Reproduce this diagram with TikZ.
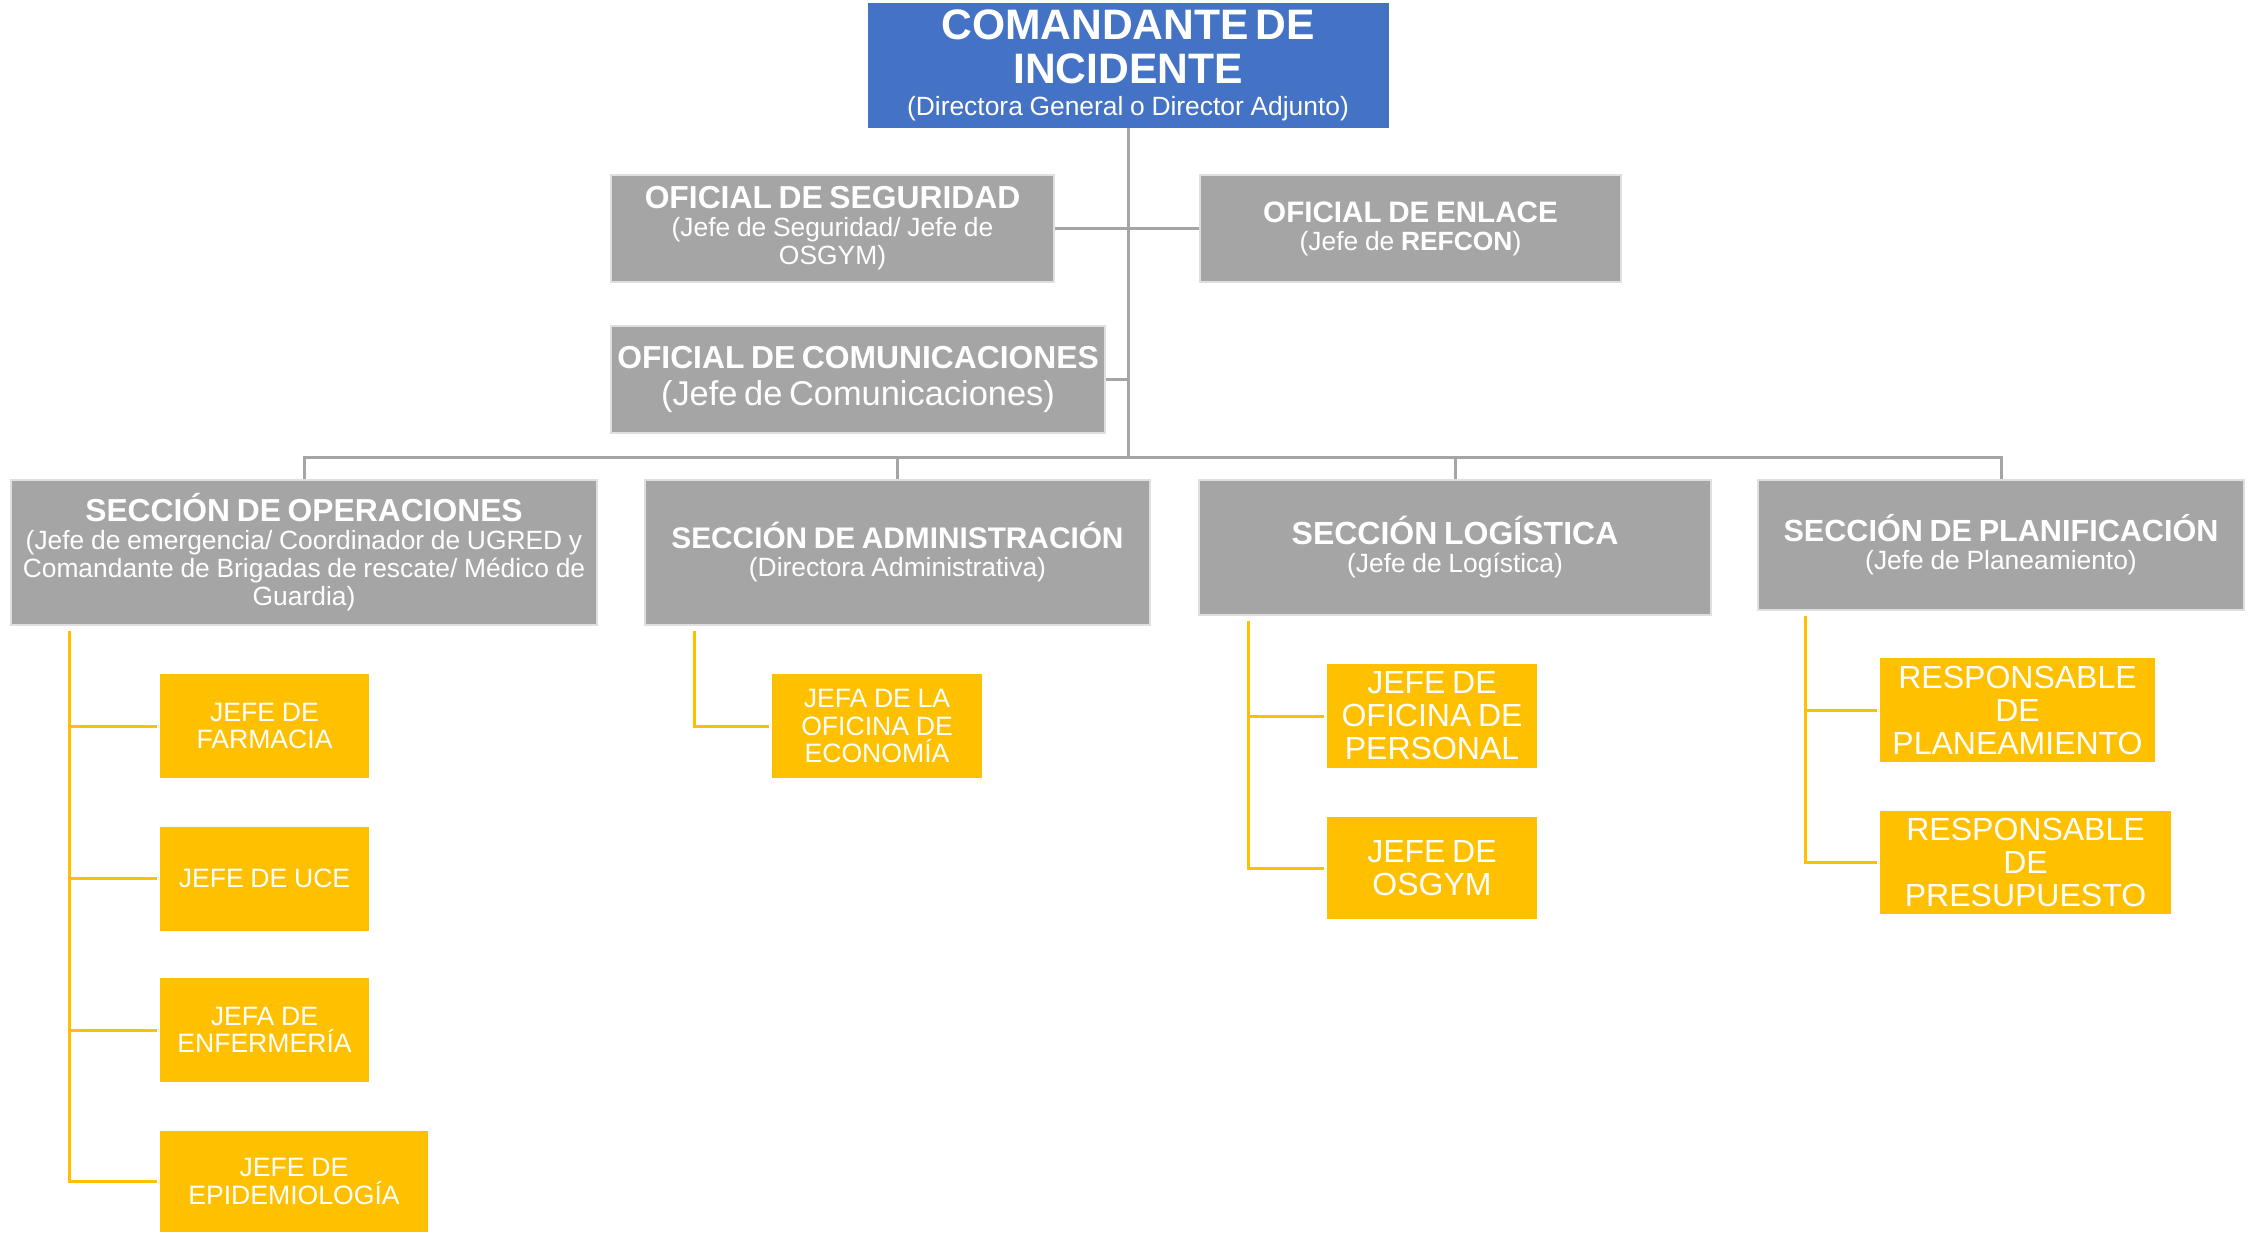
\documentclass[tikz,border=0pt]{standalone}
\usepackage{fontspec}
\setmainfont{Liberation Sans}
\definecolor{azul}{HTML}{4472C4}
\definecolor{gris}{HTML}{A5A5A5}
\definecolor{amarillo}{HTML}{FFC000}
\newcommand\tit{\fontsize{21.3}{22}\selectfont\bfseries}
\newcommand\cab[1]{\fontsize{#1}{#1}\selectfont\bfseries}
\newcommand\sub{\fontsize{13.2}{14}\selectfont}
\newcommand\uni[2]{\fontsize{#1}{#2}\selectfont}

\begin{document}
\begin{tikzpicture}[x=0.5pt, y=-0.5pt,
  caja/.style 2 args={text width=#1, minimum height=#2, inner xsep=1pt, inner ysep=0pt, align=center, text=white},
  jefe/.style={fill=azul},
  oficial/.style={fill=gris, draw=gris!35, line width=0.8pt},
  unidad/.style={fill=amarillo},
  rama/.style={draw=gris, line width=1.5pt},
  ramay/.style={draw=amarillo, line width=1.5pt, shorten >=1.5pt}]
\useasboundingbox (0,0) rectangle (2254,1232);
\node[jefe, caja={258.5pt}{62.5pt}] (ci) at (1128,65.5) {{\tit COMANDANTE DE\\INCIDENTE\par}\vspace{2pt}{\sub (Directora General o Director Adjunto)\par}};
\node[oficial, caja={219.5pt}{53.5pt}] (seg) at (832.5,228.5) {{\cab{15.9}OFICIAL DE SEGURIDAD\par}{\sub (Jefe de Seguridad/ Jefe de\\OSGYM)\par}};
\node[oficial, caja={208.5pt}{53.5pt}] (enl) at (1410.5,228.5) {{\cab{14.8}OFICIAL DE ENLACE\par}{\sub (Jefe de \textbf{REFCON})\par}};
\node[oficial, caja={245pt}{53.5pt}] (com) at (858,379.5) {{\cab{15.9}OFICIAL DE COMUNICACIONES\par}\vspace{1pt}{\fontsize{17.2}{17.5}\selectfont (Jefe de Comunicaciones)\par}};
\node[oficial, caja={291pt}{72.5pt}] (ope) at (304,552.5) {{\cab{15.9}SECCIÓN DE OPERACIONES\par}{\sub (Jefe de emergencia/ Coordinador de UGRED y\\Comandante de Brigadas de rescate/ Médico de\\Guardia)\par}};
\node[oficial, caja={250.5pt}{72.5pt}] (adm) at (897.5,552.5) {{\cab{14.9}SECCIÓN DE ADMINISTRACIÓN\par}{\sub (Directora Administrativa)\par}};
\node[oficial, caja={254pt}{67.5pt}] (log) at (1455,547.5) {{\cab{16}SECCIÓN LOGÍSTICA\par}{\sub (Jefe de Logística)\par}};
\node[oficial, caja={241pt}{65pt}] (pla) at (2001,545) {{\cab{15.3}SECCIÓN DE PLANIFICACIÓN\par}{\sub (Jefe de Planeamiento)\par}};
\node[unidad, caja={102.5pt}{52pt}] (far) at (264.5,726) {\uni{13.3}{13.7}JEFE DE\\FARMACIA\par};
\node[unidad, caja={102.5pt}{52pt}] (uce) at (264.5,878.5) {\uni{13.3}{13.7}JEFE DE UCE\par};
\node[unidad, caja={102.5pt}{52pt}] (enf) at (264.5,1030) {\uni{13.3}{13.7}JEFA DE\\ENFERMERÍA\par};
\node[unidad, caja={132pt}{50.5pt}] (epi) at (294,1181.5) {\uni{13.3}{13.7}JEFE DE\\EPIDEMIOLOGÍA\par};
\node[unidad, caja={103pt}{52pt}] (eco) at (877,726) {\uni{13.3}{13.7}JEFA DE LA\\OFICINA DE\\ECONOMÍA\par};
\node[unidad, caja={103pt}{52pt}] (per) at (1432,716) {\uni{16}{16.5}JEFE DE\\OFICINA DE\\PERSONAL\par};
\node[unidad, caja={103pt}{51pt}] (osg) at (1432,868) {\uni{16}{16.5}JEFE DE\\OSGYM\par};
\node[unidad, caja={135.5pt}{52pt}] (pln) at (2017.5,710) {\uni{16}{16.5}RESPONSABLE\\DE\\PLANEAMIENTO\par};
\node[unidad, caja={143.5pt}{51.5pt}] (pre) at (2025.5,862.5) {\uni{16}{16.5}RESPONSABLE\\DE\\PRESUPUESTO\par};
\coordinate (bus) at (1128,457);
\draw[rama] (ci.south) -- (bus);
\draw[rama] (seg.east) -- (enl.west);
\draw[rama] (com.east) -- (com.east -| ci.south);
\foreach \s in {ope,adm,log,pla} \draw[rama] (bus) -| (\s.north);
\coordinate (o1) at (69,631);
\coordinate (a1) at (694,631);
\coordinate (l1) at (1248,621);
\coordinate (p1) at (1805,616);
\foreach \u in {far,uce,enf,epi} \draw[ramay] (o1) |- (\u.west);
\draw[ramay] (a1) |- (eco.west);
\foreach \u in {per,osg} \draw[ramay] (l1) |- (\u.west);
\foreach \u in {pln,pre} \draw[ramay] (p1) |- (\u.west);
\end{tikzpicture}
\end{document}
